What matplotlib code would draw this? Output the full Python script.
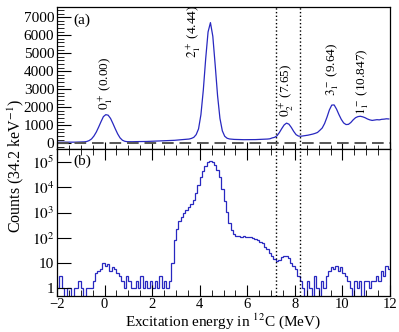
import numpy as np
import matplotlib.pyplot as plt
from matplotlib.ticker import MultipleLocator, FixedLocator, FuncFormatter, LogLocator, NullFormatter

plt.rcParams['font.family'] = ['Liberation Serif', 'DejaVu Serif']
plt.rcParams['mathtext.fontset'] = 'stix'

# Binning: 0.1 MeV bins from -2 to 12 MeV
edges = np.linspace(-2, 12, 141)
centers = 0.5 * (edges[1:] + edges[:-1])

# (a) singles spectrum, counts per bin (linear panel)
counts_a = [
    60, 62, 58, 60, 63, 61, 64, 62, 66, 68,
    72, 80, 100, 150, 240, 400, 620, 900, 1200, 1480,
    1590, 1560, 1380, 1100, 800, 520, 300, 170, 110, 90,
    85, 85, 90, 90, 95, 95, 100, 100, 105, 110,
    115, 115, 120, 125, 130, 135, 140, 150, 155, 165,
    180, 190, 200, 210, 220, 235, 270, 330, 480, 800,
    1590, 2950, 4690, 6180, 6700, 5940, 4340, 2640, 1380, 690,
    390, 280, 240, 225, 215, 210, 205, 205, 200, 200,
    200, 200, 205, 205, 210, 215, 220, 225, 235, 250,
    300, 330, 420, 600, 820, 1020, 1120, 1060, 880, 660,
    480, 400, 390, 410, 430, 450, 480, 510, 550, 600,
    720, 850, 1100, 1450, 1850, 2120, 2130, 1900, 1600, 1330,
    1130, 1040, 1050, 1150, 1300, 1420, 1480, 1500, 1470, 1420,
    1350, 1300, 1270, 1290, 1310, 1300, 1330, 1340, 1360, 1350,
]

# (b) coincidence spectrum, counts per bin (log panel)
counts_b = [
    1, 3, 1, 0, 1, 1, 0, 1, 1, 2,
    1, 0, 1, 1, 1, 2, 4, 5, 6, 10,
    8, 9, 5, 7, 6, 4, 3, 2, 1, 3,
    2, 1, 1, 2, 1, 3, 1, 2, 1, 2,
    1, 2, 1, 3, 1, 2, 1, 2, 10, 80,
    230, 450, 680, 950, 1250, 1700, 2300, 3300, 6000, 12000,
    25000, 45000, 72000, 98000, 110000, 105000, 80000, 50000, 25000, 9000,
    3000, 1100, 400, 200, 140, 120, 115, 112, 115, 110,
    110, 105, 100, 92, 80, 70, 60, 45, 35, 25,
    20, 15, 12, 13, 17, 20, 19, 16, 10, 8,
    6, 3, 2, 1, 0, 2, 1, 0, 3, 1,
    0, 2, 1, 3, 5, 7, 6, 8, 5, 7,
    4, 3, 2, 1, 0, 2, 1, 2, 0, 2,
    2, 1, 2, 2, 3, 2, 5, 3, 8, 6,
]

# state labels: text, energy position, counts position
state_labels = ["$0_1^+$ (0.00)", "$2_1^+$ (4.44)", "$0_2^+$ (7.65)",
                "$3_1^-$ (9.64)", "$1_1^-$ (10.847)"]
label_x = [0.05, 3.75, 7.65, 9.6, 10.85]
label_y = [1850, 4750, 1450, 2650, 1550]

gate = [7.2, 8.2]

line_col = '#2828c0'

fig = plt.figure(figsize=(3.99, 3.32), dpi=100)
ax1 = fig.add_axes([0.1429, 0.5527, 0.8346, 0.4253])
ax2 = fig.add_axes([0.1429, 0.1093, 0.8346, 0.4434])

# top panel
ax1.plot(centers, counts_a, color=line_col, lw=0.9)
ax1.axhline(0, color='#555555', ls=(0, (6, 3)), lw=1.4)
for g in gate:
    ax1.axvline(g, color='black', ls=':', lw=1.0)
ax1.set_xlim(-2, 12)
ax1.set_ylim(-290, 7550)
ax1.yaxis.set_major_locator(MultipleLocator(1000))
ax1.yaxis.set_minor_locator(MultipleLocator(200))
ax1.xaxis.set_major_locator(MultipleLocator(2))
ax1.xaxis.set_minor_locator(MultipleLocator(0.5))
ax1.tick_params(axis='x', which='both', direction='in', labelbottom=False)
ax1.tick_params(axis='x', which='major', length=5)
ax1.tick_params(axis='x', which='minor', length=3)
ax1.tick_params(axis='y', which='major', direction='in', length=10, labelsize=11, pad=2)
ax1.tick_params(axis='y', which='minor', direction='in', length=5)
for t, x, y in zip(state_labels, label_x, label_y):
    ax1.text(x, y, t, rotation=90, ha='center', va='bottom', fontsize=9.5)
ax1.text(0.05, 0.91, "(a)", transform=ax1.transAxes, fontsize=11, va='center')

# bottom panel
vals_b = np.array(counts_b, dtype=float)
vals_b[vals_b <= 0] = 0.3  # empty bins drop below the frame
ax2.stairs(vals_b, edges, color=line_col, lw=0.9, baseline=None)
for g in gate:
    ax2.axvline(g, color='black', ls=':', lw=1.0)
ax2.set_yscale('log')
ax2.set_xlim(-2, 12)
ax2.set_ylim(0.51, 3.5e5)
ax2.yaxis.set_major_locator(FixedLocator([1, 10, 100, 1e3, 1e4, 1e5]))
ax2.yaxis.set_minor_locator(LogLocator(base=10, subs=np.arange(2, 10)))
ax2.yaxis.set_minor_formatter(NullFormatter())


def log_fmt(v, pos):
    if v < 5:
        return "1"
    if v < 50:
        return "10"
    return "$10^{%d}$" % round(np.log10(v))


ax2.yaxis.set_major_formatter(FuncFormatter(log_fmt))
ax2.xaxis.set_major_locator(MultipleLocator(2))
ax2.xaxis.set_minor_locator(MultipleLocator(0.5))
ax2.xaxis.set_major_formatter(FuncFormatter(lambda v, p: "%d" % v if v >= 0 else "\u2212%d" % -v))
ax2.tick_params(axis='x', which='both', direction='in', top=True, labelsize=10.5, pad=2)
ax2.tick_params(axis='x', which='major', length=8)
ax2.tick_params(axis='x', which='minor', length=4)
ax2.tick_params(axis='y', which='major', direction='in', length=10, labelsize=11, pad=2)
ax2.tick_params(axis='y', which='minor', direction='in', length=5)
ax2.text(0.05, 0.91, "(b)", transform=ax2.transAxes, fontsize=11, va='center')

for ax in (ax1, ax2):
    for s in ax.spines.values():
        s.set_linewidth(0.9)

fig.text(0.56, 0.034, "Excitation energy in $^{12}$C (MeV)", ha='center', va='center', fontsize=11)
fig.text(0.04, 0.5, "Counts (34.2 keV$^{-1}$)", rotation=90, ha='center', va='center', fontsize=11.5)

fig.savefig("out.png", dpi=100)
